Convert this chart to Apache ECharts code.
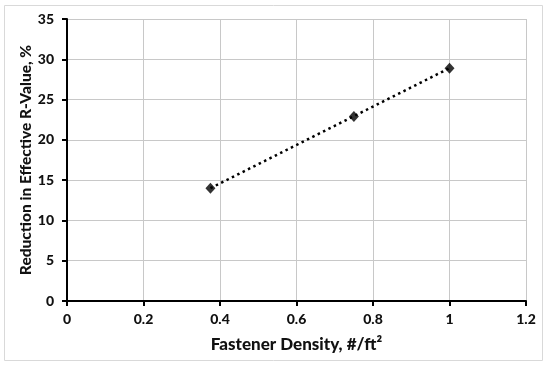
<!DOCTYPE html>
<html><head><meta charset="utf-8">
<script src="https://cdn.jsdelivr.net/npm/echarts@6/dist/echarts.min.js"></script>
<style>html,body{margin:0;padding:0;background:#fff}#c{width:550px;height:369px}</style>
</head><body><div id="c"></div>
<script>
const densities = [0.375, 0.75, 1.0];
const reductions = [14.0, 22.9, 28.9];
const trendX = [0.375, 1.0];
const trendY = [14.0, 28.9];
const xTicks = [0, 0.2, 0.4, 0.6, 0.8, 1, 1.2];
const yTicks = [0, 5, 10, 15, 20, 25, 30, 35];

const chart = echarts.init(document.getElementById('c'));
const font = 'Lato, "Open Sans", sans-serif';
chart.setOption({
  animation: false,
  graphic: [{type:'rect', shape:{x:4.5,y:5.5,width:538,height:355}, style:{fill:'none', stroke:'#d9d9d9', lineWidth:1}, silent:true}],
  grid: {left: 67, right: 24, top: 19, bottom: 68},
  xAxis: {
    type: 'value', min: 0, max: 1.2, interval: 0.2,
    name: 'Fastener Density, #/ft²', nameLocation: 'middle', nameGap: 35, nameMoveOverlap: false,
    nameTextStyle: {fontFamily: font, fontWeight: 900, fontSize: 17, color: '#111'},
    axisLine: {show: true, lineStyle: {color: '#000', width: 2}},
    axisTick: {show: true, length: 5, lineStyle: {color: '#000', width: 2}},
    axisLabel: {fontFamily: font, fontWeight: 900, fontSize: 14, color: '#111', margin: 11,
      formatter: v => String(+v.toFixed(1))},
    splitLine: {show: true, lineStyle: {color: '#c8c8c8', width: 1}}
  },
  yAxis: {
    type: 'value', min: 0, max: 35, interval: 5,
    name: 'Reduction in Effective R-Value, %', nameLocation: 'middle', nameGap: 33, nameMoveOverlap: false,
    nameTextStyle: {fontFamily: font, fontWeight: 900, fontSize: 15.5, color: '#111'},
    axisLine: {show: true, lineStyle: {color: '#000', width: 2}},
    axisTick: {show: true, length: 5, lineStyle: {color: '#000', width: 2}},
    axisLabel: {fontFamily: font, fontWeight: 900, fontSize: 14, color: '#111', margin: 13},
    splitLine: {show: true, lineStyle: {color: '#c8c8c8', width: 1}}
  },
  series: [
    {type: 'line', data: trendX.map((x,i)=>[x, trendY[i]]), symbol: 'none',
     lineStyle: {color: '#000', width: 2.5, type: [2.5, 3.5]}, z: 2},
    {type: 'scatter', data: densities.map((x,i)=>[x, reductions[i]]), symbol: 'diamond',
     symbolSize: [10, 11], itemStyle: {color: '#000'}, z: 3}
  ]
});
</script></body></html>
